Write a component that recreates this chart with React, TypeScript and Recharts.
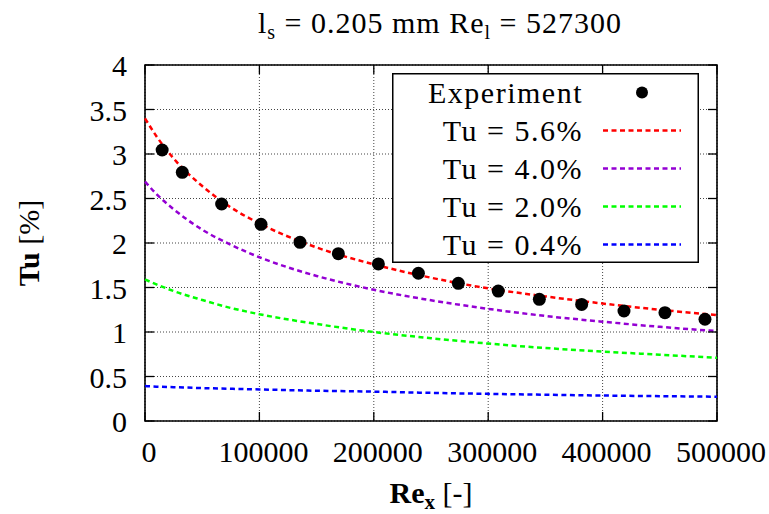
import { ComposedChart, Line, Scatter, XAxis, YAxis, CartesianGrid, ReferenceArea, Legend } from 'recharts';

// plot box (px)
const PLOT_LEFT = 145;
const PLOT_RIGHT = 717;
const PLOT_TOP = 65;
const PLOT_BOTTOM = 421;
const TICK = 9;
const FONT = 'Liberation Serif, DejaVu Serif, serif';

const xTicks = [0, 100000, 200000, 300000, 400000, 500000];
const yTicks = [0, 0.5, 1, 1.5, 2, 2.5, 3, 3.5, 4];

// experiment
const expRe = [15000, 32600, 67000, 101400, 135500, 169000, 204000, 239000, 273900, 308800, 344700, 381700, 418700, 454500, 489500];
const expTu = [3.045, 2.794, 2.438, 2.21, 2.008, 1.88, 1.765, 1.66, 1.547, 1.46, 1.367, 1.31, 1.236, 1.217, 1.143];

// model curves
const modelRe = [0, 10000, 25000, 50000, 75000, 100000, 150000, 200000, 250000, 300000, 350000, 400000, 450000, 500000];
const tu56 = [3.40, 3.20, 2.95, 2.64, 2.40, 2.22, 1.95, 1.76, 1.61, 1.49, 1.40, 1.32, 1.25, 1.19];
const tu40 = [2.69, 2.55, 2.38, 2.15, 1.98, 1.84, 1.63, 1.475, 1.356, 1.26, 1.18, 1.116, 1.058, 1.01];
const tu20 = [1.59, 1.535, 1.46, 1.36, 1.27, 1.20, 1.09, 1.00, 0.93, 0.87, 0.82, 0.78, 0.745, 0.71];
const tu04 = [0.393, 0.386, 0.38, 0.37, 0.362, 0.355, 0.34, 0.33, 0.316, 0.305, 0.295, 0.286, 0.279, 0.273];

const series = [
  { name: 'Tu = 5.6%', color: '#ff0000', values: tu56 },
  { name: 'Tu = 4.0%', color: '#9400d3', values: tu40 },
  { name: 'Tu = 2.0%', color: '#00ff00', values: tu20 },
  { name: 'Tu = 0.4%', color: '#0000ff', values: tu04 },
];

const expData = expRe.map((x, i) => ({ x, y: expTu[i] }));
const lineData = series.map(s => modelRe.map((x, i) => ({ x, y: s.values[i] })));

const DASH = '5 3.5';

function XTick({ x, payload }: any) {
  return (
    <g>
      <line x1={x} x2={x} y1={PLOT_BOTTOM} y2={PLOT_BOTTOM - TICK} stroke="#000" strokeWidth={1.3} />
      <line x1={x} x2={x} y1={PLOT_TOP} y2={PLOT_TOP + TICK} stroke="#000" strokeWidth={1.3} />
      <text x={x + 4} y={PLOT_BOTTOM + 41} textAnchor="middle" fontSize={30} fontFamily={FONT} fill="#000">
        {payload.value}
      </text>
    </g>
  );
}

function YTick({ y, payload }: any) {
  return (
    <g>
      <line x1={PLOT_LEFT} x2={PLOT_LEFT + TICK} y1={y} y2={y} stroke="#000" strokeWidth={1.3} />
      <line x1={PLOT_RIGHT} x2={PLOT_RIGHT - TICK} y1={y} y2={y} stroke="#000" strokeWidth={1.3} />
      <text x={127} y={y + 11} textAnchor="end" fontSize={30} fontFamily={FONT} fill="#000">
        {payload.value}
      </text>
    </g>
  );
}

const XTitle = () => (
  <text x={431} y={503} textAnchor="middle" fontSize={30} fontFamily={FONT} fill="#000">
    <tspan fontWeight="bold">Re</tspan>
    <tspan fontWeight="bold" fontSize={21} dy={6}>x</tspan>
    <tspan dy={-6}>{'  [-]'}</tspan>
  </text>
);

const YTitle = () => (
  <text x={0} y={0} transform="translate(39 243) rotate(-90)" textAnchor="middle" fontSize={30} fontFamily={FONT} fill="#000">
    <tspan fontWeight="bold">Tu</tspan>
    <tspan>{' [%]'}</tspan>
  </text>
);

const LEG_W = 307;
const LEG_H = 190;

function LegendBox() {
  const rows = [{ name: 'Experiment', color: '#000', dot: true }, ...series.map(s => ({ name: s.name, color: s.color, dot: false }))];
  return (
    <svg width={LEG_W} height={LEG_H} style={{ display: 'block' }}>
      <rect x={0.75} y={0.75} width={LEG_W - 1.5} height={LEG_H - 1.5} fill="#fff" stroke="#000" strokeWidth={1.5} />
      {rows.map((r, i) => {
        const cy = 19.5 + i * 38;
        return (
          <g key={r.name}>
            <text x={191} y={cy + 10} textAnchor="end" fontSize={30} fontFamily={FONT} letterSpacing={1.5} fill="#000">
              {r.name}
            </text>
            {r.dot ? (
              <circle cx={250} cy={cy} r={6} fill="#000" />
            ) : (
              <line x1={211} x2={289} y1={cy} y2={cy} stroke={r.color} strokeWidth={2.5} strokeDasharray={DASH} />
            )}
          </g>
        );
      })}
    </svg>
  );
}

export default function App() {
  return (
    <div style={{ position: 'absolute', left: 0, top: 0, width: 769, height: 514, background: '#fff' }}>
      <ComposedChart width={769} height={514} margin={{ top: PLOT_TOP, right: 769 - PLOT_RIGHT, bottom: 0, left: 0 }}>
        <CartesianGrid stroke="#444" strokeDasharray="1 2" strokeWidth={1} />
        <XAxis
          dataKey="x"
          type="number"
          domain={[0, 500000]}
          ticks={xTicks}
          interval={0}
          height={514 - PLOT_BOTTOM}
          axisLine={false}
          tickLine={false}
          tick={<XTick />}
          label={{ content: <XTitle /> }}
        />
        <YAxis
          type="number"
          domain={[0, 4]}
          ticks={yTicks}
          interval={0}
          width={PLOT_LEFT}
          axisLine={false}
          tickLine={false}
          tick={<YTick />}
          label={{ content: <YTitle /> }}
        />
        {series.map((s, i) => (
          <Line
            key={s.name}
            data={lineData[i]}
            dataKey="y"
            type="monotone"
            stroke={s.color}
            strokeWidth={2.5}
            strokeDasharray={DASH}
            dot={false}
            activeDot={false}
            isAnimationActive={false}
          />
        ))}
        <Scatter
          data={expData}
          dataKey="y"
          fill="#000"
          shape={(p: any) => <circle cx={p.cx} cy={p.cy} r={6.5} fill="#000" />}
          isAnimationActive={false}
        />
        <ReferenceArea x1={0} x2={500000} y1={0} y2={4} fill="none" stroke="#000" strokeWidth={1.6} />
        <Legend
          layout="vertical"
          align="center"
          verticalAlign="middle"
          content={<LegendBox />}
          wrapperStyle={{ left: 392, top: 73, width: LEG_W, height: LEG_H }}
        />
      </ComposedChart>
      <svg width={769} height={50} style={{ position: 'absolute', left: 0, top: 0 }}>
        <text x={440} y={33} textAnchor="middle" fontSize={30} fontFamily={FONT} letterSpacing={1} fill="#000">
          <tspan>l</tspan>
          <tspan fontSize={20} dy={6}>s</tspan>
          <tspan dy={-6}>{' = 0.205 mm Re'}</tspan>
          <tspan fontSize={20} dy={6}>l</tspan>
          <tspan dy={-6}>{' = 527300'}</tspan>
        </text>
      </svg>
    </div>
  );
}
